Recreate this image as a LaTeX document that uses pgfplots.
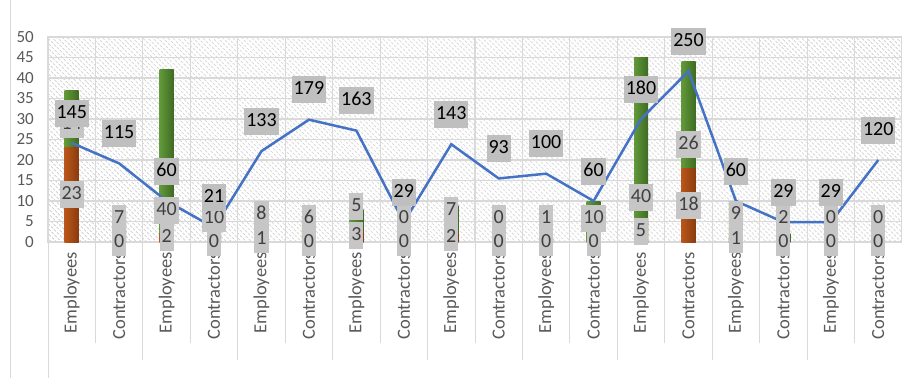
\documentclass[border=0pt]{standalone}
\usepackage{fontspec}
\setmainfont{Carlito}
\usepackage{pgfplots}
\pgfplotsset{compat=1.18}
\usepackage{pgfplotstable}
\usetikzlibrary{patterns.meta}

\definecolor{gridgray}{HTML}{D9D9D9}
\definecolor{hatchgray}{HTML}{BDBDBD}
\definecolor{ticktext}{HTML}{595959}
\definecolor{lineblue}{HTML}{4472C4}
\definecolor{linebox}{HTML}{BFBFBF}
\definecolor{barbox}{HTML}{C6C6C6}
\definecolor{bartext}{HTML}{404040}
\definecolor{grnL}{HTML}{62993A}
\definecolor{grnM}{HTML}{8FCB4C}
\definecolor{grnR}{HTML}{3E6B22}
\definecolor{orgL}{HTML}{B9561A}
\definecolor{orgM}{HTML}{E47D2D}
\definecolor{orgR}{HTML}{8A3B0E}

% idx: category position, orange/green: stacked counts, total: line (secondary scale)
\pgfplotstableread{
idx orange green total
0   23  14  145
1   0   7   115
2   2   40  60
3   0   10  21
4   1   8   133
5   0   6   179
6   3   5   163
7   0   0   29
8   2   7   143
9   0   0   93
10  0   1   100
11  0   10  60
12  5   40  180
13  18  26  250
14  1   9   60
15  0   2   29
16  0   0   29
17  0   0   120
}\staff

\pgfplotsset{
  /pgf/number format/assume math mode=true,
  frame/.style={
    scale only axis, width=854bp, height=205bp,
    xmin=-0.5, xmax=17.5, ymin=0, ymax=50,
    anchor=south west, at={(0,0)},
  },
}
\tikzset{
  lbl/.style={font=\fontsize{20bp}{24bp}\selectfont, inner xsep=2bp, inner ysep=4.5bp,
    text height=14bp, text depth=4bp},
}

\begin{document}
\begin{tikzpicture}
\path[use as bounding box] (-48bp,-136bp) rectangle (854bp,242bp);

% outer frame line and category dividers below the plot
\draw[gridgray, line width=1bp] (-37bp,-136bp) -- (-37bp,242bp);
\draw[gridgray, line width=1bp] (0,0) -- (0,-136bp);
\foreach \k in {1,3,...,17} \draw[gridgray, line width=1bp] ({\k*47.444bp},0) -- ++(0,-101bp);
\foreach \k in {2,4,...,18} \draw[gridgray, line width=1bp] ({\k*47.444bp},0) -- ++(0,-118bp);

% stacked bars (one plot per category so each bar gets its own cylinder shading)
\begin{axis}[frame,
  axis background/.style={pattern={Lines[angle=-45,distance=3.6bp,line width=0.8bp]}, pattern color=hatchgray},
  axis line style={gridgray, line width=1.2bp},
  ytick={0,5,...,50}, ymajorgrids,
  xtick={0,...,17},
  xticklabels={Employees,Contractors,Employees,Contractors,Employees,Contractors,
    Employees,Contractors,Employees,Contractors,Employees,Contractors,
    Employees,Contractors,Employees,Contractors,Employees,Contractors},
  minor xtick={0.5,1.5,...,16.5}, xminorgrids,
  grid style={gridgray, line width=1.2bp},
  major grid style={gridgray, line width=1.2bp},
  minor grid style={gridgray, line width=1.2bp},
  major tick length=0pt, minor tick length=0pt,
  yticklabel style={font=\fontsize{17bp}{20bp}\selectfont, text=ticktext, anchor=east, inner sep=0pt, xshift=-14bp},
  xticklabel style={font=\fontsize{18.5bp}{21bp}\selectfont, text=ticktext, yshift=-10bp, rotate=90, anchor=east, inner sep=0pt},
]
\pgfplotsinvokeforeach{0,...,17}{
\addplot[ybar, bar width=14bp, bar shift=0pt, draw=none,
  left color=grnL, middle color=grnM, right color=grnR, restrict x to domain=#1:#1]
  table[x=idx, y expr={\thisrow{green}>0 ? \thisrow{orange}+\thisrow{green} : nan}] {\staff};
\addplot[ybar, bar width=14bp, bar shift=0pt, draw=none,
  left color=orgL, middle color=orgM, right color=orgR, restrict x to domain=#1:#1]
  table[x=idx, y expr={\thisrow{orange}>0 ? \thisrow{orange} : nan}] {\staff};
}
\end{axis}

% total line on the secondary scale
\begin{axis}[frame, ymax=300, hide axis]
\addplot[lineblue, line width=2.5bp, mark=none] table[x=idx, y=total] {\staff};
\end{axis}

% bar segment labels
\begin{axis}[frame, hide axis, clip=false]
\addplot[draw=none, mark=none, nodes near coords, point meta=explicit,
  every node near coord/.append style={lbl, fill=barbox, text=bartext, anchor=center}]
  table[x=idx, y expr={\thisrow{orange}/2}, meta=orange] {\staff};
\addplot[draw=none, mark=none, nodes near coords, point meta=explicit,
  every node near coord/.append style={lbl, fill=barbox, text=bartext, anchor=south, yshift=10bp}]
  table[x=idx, y=orange, meta=green] {\staff};
\end{axis}

% line labels
\begin{axis}[frame, ymax=300, hide axis, clip=false]
\addplot[draw=none, mark=none, nodes near coords, point meta=explicit,
  every node near coord/.append style={lbl, fill=linebox, text=black, anchor=south, yshift=16bp}]
  table[x=idx, y=total, meta=total] {\staff};
\end{axis}
\end{tikzpicture}
\end{document}
